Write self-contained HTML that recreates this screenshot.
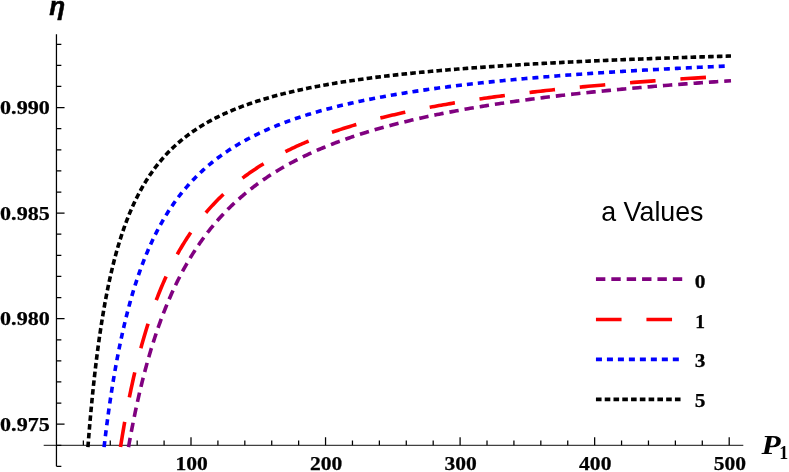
<!DOCTYPE html>
<html><head><meta charset="utf-8"><title>plot</title>
<style>html,body{margin:0;padding:0;background:#fff}svg{display:block;will-change:transform;opacity:0.999}text{font-family:"Liberation Serif",serif;font-weight:bold;fill:#000}</style></head><body>
<svg width="789" height="472" viewBox="0 0 789 472">
<rect width="789" height="472" fill="#fff"/>
<path d="M43.7,445.31 H743.3" fill="none" stroke="#111" stroke-width="1"/>
<path d="M56.45,34.3 V466.3 M83.36,445.31 v-4.9 M110.27,445.31 v-4.9 M137.18,445.31 v-4.9 M164.09,445.31 v-4.9 M191.00,445.31 v-8.1 M217.91,445.31 v-4.9 M244.82,445.31 v-4.9 M271.73,445.31 v-4.9 M298.64,445.31 v-4.9 M325.55,445.31 v-8.1 M352.46,445.31 v-4.9 M379.37,445.31 v-4.9 M406.28,445.31 v-4.9 M433.19,445.31 v-4.9 M460.10,445.31 v-8.1 M487.01,445.31 v-4.9 M513.92,445.31 v-4.9 M540.83,445.31 v-4.9 M567.74,445.31 v-4.9 M594.65,445.31 v-8.1 M621.56,445.31 v-4.9 M648.47,445.31 v-4.9 M675.38,445.31 v-4.9 M702.29,445.31 v-4.9 M729.20,445.31 v-8.1 M56.45,466.42 h4.9 M56.45,445.31 h4.9 M56.45,424.21 h8.1 M56.45,403.10 h4.9 M56.45,381.99 h4.9 M56.45,360.88 h4.9 M56.45,339.78 h4.9 M56.45,318.67 h8.1 M56.45,297.56 h4.9 M56.45,276.46 h4.9 M56.45,255.35 h4.9 M56.45,234.24 h4.9 M56.45,213.14 h8.1 M56.45,192.03 h4.9 M56.45,170.92 h4.9 M56.45,149.81 h4.9 M56.45,128.71 h4.9 M56.45,107.60 h8.1 M56.45,86.49 h4.9 M56.45,65.39 h4.9 M56.45,44.28 h4.9" fill="none" stroke="#000" stroke-width="1.25"/>
<path d="M128.84,445.31 L129.25,443.04 L129.66,440.77 L130.07,438.52 L130.48,436.29 L130.89,434.06 L131.31,431.85 L131.73,429.65 L132.15,427.46 L132.58,425.28 L133.00,423.12 L133.43,420.97 L133.86,418.83 L134.30,416.70 L134.73,414.58 L135.17,412.48 L135.61,410.39 L136.06,408.30 L136.50,406.24 L136.95,404.18 L137.40,402.13 L137.85,400.10 L138.31,398.07 L138.77,396.06 L139.23,394.06 L139.69,392.07 L140.16,390.09 L140.63,388.12 L141.10,386.17 L141.58,384.22 L142.05,382.28 L142.53,380.36 L143.01,378.45 L143.50,376.54 L143.99,374.65 L144.48,372.77 L144.97,370.90 L145.47,369.04 L145.97,367.19 L146.47,365.35 L146.97,363.52 L147.48,361.70 L147.99,359.89 L148.50,358.09 L149.02,356.30 L149.54,354.52 L150.06,352.75 L150.58,350.99 L151.11,349.24 L151.64,347.50 L152.17,345.77 L152.71,344.05 L153.25,342.34 L153.79,340.63 L154.34,338.94 L154.89,337.26 L155.44,335.58 L155.99,333.92 L156.55,332.27 L157.11,330.62 L157.67,328.98 L158.24,327.36 L158.81,325.74 L159.38,324.13 L159.96,322.53 L160.54,320.94 L161.12,319.35 L161.71,317.78 L162.30,316.22 L162.89,314.66 L163.49,313.11 L164.09,311.57 L164.69,310.04 L165.30,308.52 L165.91,307.01 L166.52,305.50 L167.14,304.01 L167.76,302.52 L168.38,301.04 L169.01,299.57 L169.64,298.10 L170.28,296.65 L170.91,295.20 L171.55,293.76 L172.20,292.33 L172.85,290.91 L173.50,289.49 L174.16,288.08 L174.82,286.68 L175.48,285.29 L176.15,283.91 L176.82,282.53 L177.49,281.16 L178.17,279.80 L178.85,278.45 L179.54,277.10 L180.23,275.76 L180.92,274.43 L181.62,273.11 L182.32,271.79 L183.02,270.49 L183.73,269.18 L184.45,267.89 L185.16,266.60 L185.88,265.32 L186.61,264.05 L187.34,262.78 L188.07,261.53 L188.81,260.27 L189.55,259.03 L190.30,257.79 L191.05,256.56 L191.80,255.34 L192.56,254.12 L193.32,252.91 L194.09,251.71 L194.86,250.51 L195.63,249.32 L196.41,248.14 L197.20,246.96 L197.99,245.79 L198.78,244.62 L199.58,243.47 L200.38,242.32 L201.19,241.17 L202.00,240.03 L202.81,238.90 L203.63,237.78 L204.46,236.66 L205.29,235.54 L206.12,234.44 L206.96,233.34 L207.80,232.24 L208.65,231.15 L209.50,230.07 L210.36,228.99 L211.22,227.92 L212.09,226.86 L212.96,225.80 L213.84,224.75 L214.72,223.70 L215.61,222.66 L216.50,221.63 L217.40,220.60 L218.30,219.57 L219.20,218.56 L220.12,217.54 L221.03,216.54 L221.96,215.54 L222.88,214.54 L223.81,213.55 L224.75,212.57 L225.70,211.59 L226.64,210.62 L227.60,209.65 L228.56,208.68 L229.52,207.73 L230.49,206.78 L231.47,205.83 L232.45,204.89 L233.43,203.95 L234.42,203.02 L235.42,202.10 L236.42,201.18 L237.43,200.26 L238.45,199.35 L239.47,198.44 L240.49,197.54 L241.52,196.65 L242.56,195.76 L243.60,194.87 L244.65,193.99 L245.70,193.12 L246.77,192.25 L247.83,191.38 L248.90,190.52 L249.98,189.67 L251.07,188.81 L252.16,187.97 L253.25,187.13 L254.36,186.29 L255.46,185.46 L256.58,184.63 L257.70,183.81 L258.83,182.99 L259.96,182.17 L261.10,181.36 L262.25,180.56 L263.40,179.76 L264.56,178.96 L265.73,178.17 L266.90,177.38 L268.08,176.60 L269.27,175.82 L270.46,175.05 L271.66,174.28 L272.86,173.51 L274.07,172.75 L275.29,172.00 L276.52,171.24 L277.75,170.49 L278.99,169.75 L280.24,169.01 L281.49,168.27 L282.75,167.54 L284.02,166.81 L285.30,166.09 L286.58,165.37 L287.87,164.65 L289.17,163.94 L290.47,163.23 L291.78,162.53 L293.10,161.83 L294.43,161.13 L295.76,160.44 L297.10,159.75 L298.45,159.07 L299.80,158.39 L301.17,157.71 L302.54,157.04 L303.92,156.37 L305.30,155.70 L306.70,155.04 L308.10,154.38 L309.51,153.73 L310.93,153.08 L312.35,152.43 L313.79,151.79 L315.23,151.15 L316.68,150.51 L318.14,149.88 L319.60,149.25 L321.08,148.62 L322.56,148.00 L324.05,147.38 L325.55,146.76 L327.06,146.15 L328.57,145.54 L330.10,144.94 L331.63,144.34 L333.17,143.74 L334.72,143.14 L336.28,142.55 L337.85,141.96 L339.43,141.38 L341.01,140.79 L342.61,140.21 L344.21,139.64 L345.82,139.07 L347.44,138.50 L349.07,137.93 L350.71,137.37 L352.36,136.81 L354.02,136.25 L355.69,135.70 L357.36,135.15 L359.05,134.60 L360.75,134.06 L362.45,133.51 L364.17,132.98 L365.89,132.44 L367.62,131.91 L369.37,131.38 L371.12,130.85 L372.88,130.33 L374.66,129.81 L376.44,129.29 L378.23,128.78 L380.03,128.26 L381.85,127.75 L383.67,127.25 L385.50,126.75 L387.35,126.24 L389.20,125.75 L391.07,125.25 L392.94,124.76 L394.83,124.27 L396.72,123.78 L398.63,123.30 L400.54,122.82 L402.47,122.34 L404.41,121.86 L406.36,121.39 L408.32,120.92 L410.29,120.45 L412.28,119.98 L414.27,119.52 L416.27,119.06 L418.29,118.60 L420.32,118.15 L422.36,117.70 L424.41,117.25 L426.47,116.80 L428.54,116.35 L430.63,115.91 L432.72,115.47 L434.83,115.03 L436.95,114.60 L439.08,114.16 L441.23,113.73 L443.38,113.30 L445.55,112.88 L447.73,112.46 L449.92,112.03 L452.13,111.62 L454.34,111.20 L456.57,110.79 L458.81,110.37 L461.07,109.96 L463.34,109.56 L465.62,109.15 L467.91,108.75 L470.21,108.35 L472.53,107.95 L474.86,107.56 L477.21,107.16 L479.56,106.77 L481.93,106.38 L484.32,105.99 L486.72,105.61 L489.13,105.23 L491.55,104.85 L493.99,104.47 L496.44,104.09 L498.90,103.72 L501.38,103.34 L503.88,102.97 L506.38,102.60 L508.90,102.24 L511.44,101.87 L513.99,101.51 L516.55,101.15 L519.13,100.79 L521.72,100.44 L524.33,100.08 L526.95,99.73 L529.59,99.38 L532.24,99.03 L534.90,98.69 L537.58,98.34 L540.28,98.00 L542.99,97.66 L545.72,97.32 L548.46,96.99 L551.21,96.65 L553.99,96.32 L556.77,95.99 L559.58,95.66 L562.40,95.33 L565.23,95.00 L568.08,94.68 L570.95,94.36 L573.83,94.04 L576.73,93.72 L579.64,93.40 L582.58,93.09 L585.52,92.78 L588.49,92.46 L591.47,92.15 L594.47,91.85 L597.48,91.54 L600.51,91.24 L603.56,90.93 L606.63,90.63 L609.71,90.33 L612.81,90.03 L615.92,89.74 L619.06,89.44 L622.21,89.15 L625.38,88.86 L628.57,88.57 L631.77,88.28 L635.00,88.00 L638.24,87.71 L641.50,87.43 L644.78,87.15 L648.07,86.87 L651.39,86.59 L654.72,86.31 L658.07,86.04 L661.44,85.76 L664.83,85.49 L668.24,85.22 L671.67,84.95 L675.12,84.68 L678.58,84.42 L682.07,84.15 L685.57,83.89 L689.10,83.63 L692.64,83.37 L696.21,83.11 L699.79,82.85 L703.40,82.59 L707.02,82.34 L710.67,82.09 L714.33,81.83 L718.02,81.58 L721.72,81.33 L725.45,81.09 L729.20,80.84" fill="none" stroke="#800080" stroke-width="3.6" stroke-linecap="square" stroke-linejoin="round" stroke-dasharray="5.800 9.573"/>
<path d="M120.79,445.31 L121.17,442.92 L121.55,440.53 L121.94,438.17 L122.32,435.81 L122.71,433.47 L123.10,431.15 L123.50,428.84 L123.89,426.54 L124.29,424.25 L124.69,421.98 L125.09,419.72 L125.50,417.47 L125.90,415.24 L126.31,413.02 L126.73,410.82 L127.14,408.62 L127.56,406.44 L127.98,404.28 L128.40,402.12 L128.82,399.98 L129.25,397.85 L129.68,395.73 L130.11,393.63 L130.55,391.54 L130.98,389.45 L131.42,387.39 L131.87,385.33 L132.31,383.29 L132.76,381.26 L133.21,379.24 L133.66,377.23 L134.12,375.23 L134.58,373.25 L135.04,371.27 L135.50,369.31 L135.97,367.36 L136.44,365.42 L136.91,363.50 L137.38,361.58 L137.86,359.68 L138.34,357.78 L138.82,355.90 L139.31,354.03 L139.80,352.17 L140.29,350.32 L140.78,348.48 L141.28,346.66 L141.78,344.84 L142.29,343.03 L142.79,341.24 L143.30,339.45 L143.81,337.68 L144.33,335.91 L144.85,334.16 L145.37,332.42 L145.89,330.68 L146.42,328.96 L146.95,327.25 L147.49,325.54 L148.02,323.85 L148.56,322.17 L149.11,320.49 L149.65,318.83 L150.20,317.18 L150.76,315.53 L151.31,313.90 L151.87,312.27 L152.44,310.66 L153.00,309.05 L153.57,307.46 L154.15,305.87 L154.72,304.29 L155.30,302.72 L155.89,301.16 L156.47,299.61 L157.06,298.07 L157.66,296.54 L158.25,295.02 L158.85,293.50 L159.46,292.00 L160.07,290.50 L160.68,289.01 L161.29,287.54 L161.91,286.07 L162.53,284.60 L163.16,283.15 L163.79,281.71 L164.42,280.27 L165.06,278.84 L165.70,277.42 L166.34,276.01 L166.99,274.61 L167.64,273.22 L168.30,271.83 L168.96,270.45 L169.62,269.08 L170.29,267.72 L170.96,266.37 L171.64,265.02 L172.32,263.68 L173.00,262.35 L173.69,261.03 L174.38,259.72 L175.08,258.41 L175.78,257.11 L176.48,255.82 L177.19,254.53 L177.90,253.26 L178.62,251.99 L179.34,250.73 L180.06,249.47 L180.79,248.23 L181.53,246.99 L182.27,245.75 L183.01,244.53 L183.75,243.31 L184.51,242.10 L185.26,240.90 L186.02,239.70 L186.79,238.51 L187.55,237.33 L188.33,236.15 L189.11,234.98 L189.89,233.82 L190.68,232.67 L191.47,231.52 L192.26,230.38 L193.07,229.24 L193.87,228.11 L194.68,226.99 L195.50,225.88 L196.32,224.77 L197.14,223.67 L197.97,222.57 L198.81,221.48 L199.65,220.40 L200.49,219.32 L201.34,218.25 L202.20,217.19 L203.06,216.13 L203.92,215.08 L204.79,214.03 L205.67,213.00 L206.55,211.96 L207.43,210.94 L208.33,209.92 L209.22,208.90 L210.12,207.89 L211.03,206.89 L211.94,205.89 L212.86,204.90 L213.78,203.91 L214.71,202.94 L215.64,201.96 L216.58,200.99 L217.53,200.03 L218.48,199.07 L219.43,198.12 L220.40,197.18 L221.36,196.24 L222.34,195.30 L223.31,194.37 L224.30,193.45 L225.29,192.53 L226.29,191.62 L227.29,190.71 L228.30,189.81 L229.31,188.91 L230.33,188.02 L231.36,187.13 L232.39,186.25 L233.43,185.38 L234.47,184.50 L235.52,183.64 L236.58,182.78 L237.64,181.92 L238.71,181.07 L239.78,180.23 L240.86,179.39 L241.95,178.55 L243.05,177.72 L244.15,176.89 L245.26,176.07 L246.37,175.26 L247.49,174.44 L248.62,173.64 L249.75,172.84 L250.89,172.04 L252.04,171.24 L253.19,170.46 L254.35,169.67 L255.52,168.89 L256.70,168.12 L257.88,167.35 L259.07,166.59 L260.26,165.82 L261.46,165.07 L262.67,164.32 L263.89,163.57 L265.11,162.83 L266.34,162.09 L267.58,161.35 L268.83,160.62 L270.08,159.90 L271.34,159.18 L272.61,158.46 L273.89,157.75 L275.17,157.04 L276.46,156.33 L277.76,155.63 L279.06,154.94 L280.38,154.24 L281.70,153.55 L283.03,152.87 L284.36,152.19 L285.71,151.51 L287.06,150.84 L288.42,150.17 L289.79,149.51 L291.17,148.85 L292.55,148.19 L293.94,147.54 L295.35,146.89 L296.75,146.24 L298.17,145.60 L299.60,144.97 L301.03,144.33 L302.48,143.70 L303.93,143.07 L305.39,142.45 L306.86,141.83 L308.33,141.22 L309.82,140.61 L311.32,140.00 L312.82,139.39 L314.33,138.79 L315.85,138.19 L317.38,137.60 L318.92,137.01 L320.47,136.42 L322.03,135.84 L323.60,135.26 L325.17,134.68 L326.76,134.11 L328.35,133.54 L329.96,132.97 L331.57,132.41 L333.19,131.85 L334.83,131.29 L336.47,130.74 L338.12,130.18 L339.78,129.64 L341.45,129.09 L343.14,128.55 L344.83,128.02 L346.53,127.48 L348.24,126.95 L349.96,126.42 L351.69,125.90 L353.44,125.37 L355.19,124.86 L356.95,124.34 L358.72,123.83 L360.51,123.32 L362.30,122.81 L364.11,122.31 L365.92,121.80 L367.75,121.31 L369.58,120.81 L371.43,120.32 L373.29,119.83 L375.16,119.34 L377.04,118.86 L378.93,118.38 L380.83,117.90 L382.75,117.43 L384.67,116.95 L386.61,116.48 L388.56,116.02 L390.52,115.55 L392.49,115.09 L394.47,114.63 L396.46,114.18 L398.47,113.72 L400.49,113.27 L402.52,112.82 L404.56,112.38 L406.61,111.94 L408.68,111.50 L410.76,111.06 L412.85,110.62 L414.95,110.19 L417.07,109.76 L419.19,109.33 L421.33,108.91 L423.49,108.49 L425.65,108.07 L427.83,107.65 L430.02,107.23 L432.22,106.82 L434.44,106.41 L436.67,106.00 L438.92,105.60 L441.17,105.20 L443.44,104.79 L445.73,104.40 L448.02,104.00 L450.33,103.61 L452.66,103.22 L454.99,102.83 L457.34,102.44 L459.71,102.06 L462.09,101.67 L464.48,101.29 L466.89,100.92 L469.31,100.54 L471.75,100.17 L474.20,99.80 L476.66,99.43 L479.14,99.06 L481.64,98.70 L484.14,98.33 L486.67,97.97 L489.21,97.61 L491.76,97.26 L494.33,96.90 L496.91,96.55 L499.51,96.20 L502.12,95.85 L504.75,95.51 L507.40,95.16 L510.06,94.82 L512.74,94.48 L515.43,94.14 L518.14,93.81 L520.86,93.48 L523.60,93.14 L526.36,92.81 L529.13,92.49 L531.92,92.16 L534.72,91.84 L537.54,91.51 L540.38,91.19 L543.24,90.87 L546.11,90.56 L549.00,90.24 L551.90,89.93 L554.83,89.62 L557.77,89.31 L560.73,89.00 L563.70,88.70 L566.69,88.39 L569.70,88.09 L572.73,87.79 L575.78,87.49 L578.84,87.19 L581.92,86.90 L585.02,86.61 L588.14,86.31 L591.28,86.02 L594.44,85.74 L597.61,85.45 L600.80,85.17 L604.01,84.88 L607.25,84.60 L610.50,84.32 L613.76,84.04 L617.05,83.77 L620.36,83.49 L623.69,83.22 L627.03,82.95 L630.40,82.68 L633.79,82.41 L637.19,82.14 L640.62,81.88 L644.07,81.61 L647.53,81.35 L651.02,81.09 L654.53,80.83 L658.06,80.57 L661.61,80.32 L665.18,80.06 L668.77,79.81 L672.38,79.56 L676.01,79.31 L679.67,79.06 L683.35,78.81 L687.05,78.56 L690.77,78.32 L694.51,78.08 L698.27,77.83 L702.06,77.59 L705.87,77.36 L709.70,77.12 L713.55,76.88 L717.43,76.65 L721.33,76.41 L725.25,76.18 L729.20,75.95" fill="none" stroke="#ff0000" stroke-width="3.6" stroke-linecap="square" stroke-linejoin="round" stroke-dasharray="22.000 28.490"/>
<path d="M104.29,445.31 L104.61,442.62 L104.93,439.94 L105.25,437.27 L105.57,434.63 L105.90,432.00 L106.23,429.39 L106.56,426.80 L106.89,424.23 L107.23,421.67 L107.57,419.13 L107.91,416.61 L108.25,414.10 L108.59,411.61 L108.94,409.13 L109.29,406.67 L109.64,404.23 L109.99,401.81 L110.35,399.40 L110.71,397.00 L111.07,394.63 L111.43,392.26 L111.80,389.92 L112.16,387.59 L112.54,385.27 L112.91,382.97 L113.28,380.68 L113.66,378.41 L114.04,376.16 L114.42,373.92 L114.81,371.69 L115.20,369.48 L115.59,367.29 L115.98,365.10 L116.38,362.94 L116.78,360.78 L117.18,358.64 L117.58,356.52 L117.99,354.41 L118.40,352.31 L118.81,350.23 L119.22,348.16 L119.64,346.11 L120.06,344.06 L120.48,342.04 L120.91,340.02 L121.34,338.02 L121.77,336.03 L122.20,334.05 L122.64,332.09 L123.08,330.14 L123.52,328.21 L123.97,326.28 L124.42,324.37 L124.87,322.47 L125.32,320.59 L125.78,318.71 L126.24,316.85 L126.71,315.00 L127.17,313.17 L127.64,311.34 L128.12,309.53 L128.59,307.73 L129.07,305.94 L129.55,304.17 L130.04,302.40 L130.53,300.65 L131.02,298.91 L131.52,297.18 L132.02,295.46 L132.52,293.75 L133.02,292.05 L133.53,290.37 L134.05,288.69 L134.56,287.03 L135.08,285.38 L135.60,283.74 L136.13,282.11 L136.66,280.49 L137.19,278.88 L137.73,277.28 L138.27,275.70 L138.81,274.12 L139.36,272.55 L139.91,271.00 L140.47,269.45 L141.03,267.91 L141.59,266.39 L142.15,264.87 L142.72,263.37 L143.30,261.87 L143.87,260.39 L144.45,258.91 L145.04,257.45 L145.63,255.99 L146.22,254.54 L146.82,253.10 L147.42,251.68 L148.02,250.26 L148.63,248.85 L149.25,247.45 L149.86,246.06 L150.48,244.68 L151.11,243.31 L151.74,241.94 L152.37,240.59 L153.01,239.24 L153.65,237.91 L154.30,236.58 L154.95,235.26 L155.60,233.95 L156.26,232.65 L156.92,231.36 L157.59,230.07 L158.26,228.80 L158.94,227.53 L159.62,226.27 L160.31,225.02 L161.00,223.78 L161.69,222.54 L162.39,221.32 L163.10,220.10 L163.81,218.89 L164.52,217.69 L165.24,216.50 L165.96,215.31 L166.69,214.13 L167.42,212.96 L168.16,211.80 L168.90,210.64 L169.65,209.50 L170.40,208.36 L171.16,207.22 L171.92,206.10 L172.69,204.98 L173.46,203.87 L174.24,202.77 L175.02,201.67 L175.81,200.59 L176.61,199.50 L177.40,198.43 L178.21,197.36 L179.02,196.30 L179.83,195.25 L180.65,194.21 L181.48,193.17 L182.31,192.14 L183.15,191.11 L183.99,190.09 L184.84,189.08 L185.69,188.08 L186.55,187.08 L187.41,186.09 L188.28,185.10 L189.16,184.12 L190.04,183.15 L190.93,182.18 L191.82,181.22 L192.72,180.27 L193.63,179.32 L194.54,178.38 L195.46,177.45 L196.38,176.52 L197.31,175.60 L198.25,174.68 L199.19,173.77 L200.14,172.87 L201.10,171.97 L202.06,171.08 L203.03,170.19 L204.00,169.31 L204.98,168.44 L205.97,167.57 L206.96,166.71 L207.96,165.85 L208.97,165.00 L209.98,164.15 L211.00,163.31 L212.03,162.48 L213.07,161.65 L214.11,160.82 L215.16,160.01 L216.21,159.19 L217.27,158.38 L218.34,157.58 L219.42,156.79 L220.50,155.99 L221.59,155.21 L222.69,154.43 L223.79,153.65 L224.91,152.88 L226.03,152.11 L227.15,151.35 L228.29,150.60 L229.43,149.85 L230.58,149.10 L231.74,148.36 L232.90,147.62 L234.08,146.89 L235.26,146.17 L236.45,145.44 L237.64,144.73 L238.85,144.01 L240.06,143.31 L241.28,142.60 L242.51,141.91 L243.74,141.21 L244.99,140.52 L246.24,139.84 L247.50,139.16 L248.77,138.48 L250.05,137.81 L251.34,137.15 L252.64,136.49 L253.94,135.83 L255.25,135.17 L256.57,134.53 L257.90,133.88 L259.24,133.24 L260.59,132.60 L261.95,131.97 L263.31,131.34 L264.69,130.72 L266.07,130.10 L267.47,129.49 L268.87,128.87 L270.28,128.27 L271.70,127.66 L273.13,127.06 L274.57,126.47 L276.02,125.88 L277.48,125.29 L278.95,124.71 L280.43,124.13 L281.92,123.55 L283.42,122.98 L284.93,122.41 L286.45,121.84 L287.98,121.28 L289.52,120.73 L291.06,120.17 L292.62,119.62 L294.19,119.08 L295.77,118.53 L297.37,117.99 L298.97,117.46 L300.58,116.93 L302.20,116.40 L303.84,115.87 L305.48,115.35 L307.14,114.83 L308.80,114.32 L310.48,113.81 L312.17,113.30 L313.87,112.79 L315.58,112.29 L317.30,111.80 L319.04,111.30 L320.78,110.81 L322.54,110.32 L324.31,109.84 L326.09,109.36 L327.88,108.88 L329.68,108.40 L331.50,107.93 L333.33,107.46 L335.17,106.99 L337.02,106.53 L338.89,106.07 L340.76,105.61 L342.65,105.16 L344.56,104.71 L346.47,104.26 L348.40,103.82 L350.34,103.38 L352.29,102.94 L354.26,102.50 L356.24,102.07 L358.23,101.64 L360.24,101.21 L362.26,100.78 L364.29,100.36 L366.34,99.94 L368.40,99.53 L370.47,99.11 L372.56,98.70 L374.66,98.29 L376.77,97.89 L378.90,97.49 L381.05,97.09 L383.21,96.69 L385.38,96.29 L387.56,95.90 L389.76,95.51 L391.98,95.12 L394.21,94.74 L396.46,94.36 L398.72,93.98 L400.99,93.60 L403.28,93.23 L405.59,92.85 L407.91,92.49 L410.24,92.12 L412.60,91.75 L414.96,91.39 L417.35,91.03 L419.75,90.67 L422.16,90.32 L424.59,89.97 L427.04,89.62 L429.50,89.27 L431.98,88.92 L434.48,88.58 L436.99,88.24 L439.52,87.90 L442.07,87.56 L444.63,87.23 L447.21,86.89 L449.81,86.56 L452.42,86.24 L455.06,85.91 L457.70,85.59 L460.37,85.26 L463.06,84.94 L465.76,84.63 L468.48,84.31 L471.22,84.00 L473.98,83.69 L476.75,83.38 L479.55,83.07 L482.36,82.77 L485.19,82.46 L488.04,82.16 L490.91,81.86 L493.80,81.57 L496.70,81.27 L499.63,80.98 L502.58,80.69 L505.54,80.40 L508.53,80.11 L511.53,79.83 L514.56,79.54 L517.60,79.26 L520.67,78.98 L523.75,78.70 L526.86,78.43 L529.99,78.15 L533.14,77.88 L536.30,77.61 L539.49,77.34 L542.70,77.07 L545.94,76.81 L549.19,76.54 L552.47,76.28 L555.76,76.02 L559.08,75.76 L562.42,75.51 L565.79,75.25 L569.17,75.00 L572.58,74.75 L576.01,74.50 L579.47,74.25 L582.94,74.00 L586.44,73.76 L589.96,73.51 L593.51,73.27 L597.08,73.03 L600.68,72.79 L604.29,72.56 L607.93,72.32 L611.60,72.09 L615.29,71.85 L619.01,71.62 L622.74,71.39 L626.51,71.17 L630.30,70.94 L634.11,70.72 L637.95,70.49 L641.82,70.27 L645.71,70.05 L649.63,69.83 L653.57,69.61 L657.54,69.40 L661.53,69.18 L665.56,68.97 L669.61,68.76 L673.68,68.55 L677.78,68.34 L681.91,68.13 L686.07,67.92 L690.26,67.72 L694.47,67.52 L698.71,67.31 L702.98,67.11 L707.28,66.91 L711.61,66.71 L715.96,66.52 L720.34,66.32 L724.76,66.13 L729.20,65.93" fill="none" stroke="#0000ff" stroke-width="3.6" stroke-linecap="square" stroke-linejoin="round" stroke-dasharray="2.400 8.580"/>
<path d="M88.06,445.31 L88.30,442.19 L88.55,439.10 L88.80,436.03 L89.04,432.98 L89.30,429.96 L89.55,426.96 L89.80,423.98 L90.06,421.02 L90.32,418.09 L90.58,415.18 L90.84,412.29 L91.11,409.43 L91.37,406.58 L91.64,403.76 L91.91,400.96 L92.18,398.18 L92.46,395.42 L92.74,392.68 L93.02,389.97 L93.30,387.27 L93.58,384.60 L93.87,381.94 L94.15,379.31 L94.44,376.69 L94.74,374.10 L95.03,371.53 L95.33,368.97 L95.63,366.44 L95.93,363.92 L96.23,361.42 L96.54,358.94 L96.85,356.49 L97.16,354.05 L97.47,351.62 L97.79,349.22 L98.10,346.84 L98.42,344.47 L98.75,342.12 L99.07,339.79 L99.40,337.48 L99.73,335.19 L100.06,332.91 L100.40,330.65 L100.74,328.41 L101.08,326.18 L101.42,323.97 L101.77,321.78 L102.12,319.60 L102.47,317.45 L102.82,315.30 L103.18,313.18 L103.54,311.07 L103.90,308.98 L104.27,306.90 L104.63,304.84 L105.00,302.79 L105.38,300.76 L105.75,298.75 L106.13,296.75 L106.52,294.76 L106.90,292.80 L107.29,290.84 L107.68,288.90 L108.07,286.98 L108.47,285.07 L108.87,283.17 L109.27,281.29 L109.68,279.43 L110.09,277.58 L110.50,275.74 L110.92,273.92 L111.34,272.11 L111.76,270.31 L112.19,268.53 L112.61,266.76 L113.05,265.01 L113.48,263.26 L113.92,261.54 L114.36,259.82 L114.81,258.12 L115.26,256.43 L115.71,254.75 L116.17,253.09 L116.62,251.44 L117.09,249.80 L117.55,248.18 L118.02,246.56 L118.50,244.96 L118.98,243.37 L119.46,241.80 L119.94,240.23 L120.43,238.68 L120.92,237.14 L121.42,235.61 L121.92,234.09 L122.42,232.59 L122.93,231.09 L123.44,229.61 L123.96,228.14 L124.48,226.68 L125.00,225.23 L125.53,223.79 L126.06,222.37 L126.59,220.95 L127.13,219.55 L127.68,218.15 L128.22,216.77 L128.78,215.39 L129.33,214.03 L129.89,212.68 L130.46,211.34 L131.03,210.00 L131.60,208.68 L132.18,207.37 L132.76,206.07 L133.35,204.78 L133.94,203.50 L134.54,202.22 L135.14,200.96 L135.74,199.71 L136.35,198.47 L136.97,197.23 L137.59,196.01 L138.21,194.79 L138.84,193.59 L139.47,192.39 L140.11,191.21 L140.76,190.03 L141.41,188.86 L142.06,187.70 L142.72,186.55 L143.38,185.40 L144.05,184.27 L144.72,183.14 L145.40,182.03 L146.09,180.92 L146.78,179.82 L147.47,178.73 L148.17,177.65 L148.88,176.57 L149.59,175.51 L150.31,174.45 L151.03,173.40 L151.76,172.35 L152.49,171.32 L153.23,170.29 L153.97,169.28 L154.72,168.27 L155.48,167.26 L156.24,166.27 L157.01,165.28 L157.78,164.30 L158.56,163.33 L159.35,162.36 L160.14,161.40 L160.94,160.45 L161.74,159.51 L162.55,158.57 L163.37,157.64 L164.19,156.72 L165.02,155.81 L165.85,154.90 L166.69,154.00 L167.54,153.10 L168.40,152.22 L169.26,151.34 L170.13,150.46 L171.00,149.60 L171.88,148.74 L172.77,147.88 L173.67,147.03 L174.57,146.19 L175.48,145.36 L176.39,144.53 L177.31,143.71 L178.24,142.89 L179.18,142.08 L180.13,141.28 L181.08,140.48 L182.04,139.69 L183.00,138.91 L183.98,138.13 L184.96,137.36 L185.95,136.59 L186.94,135.83 L187.95,135.07 L188.96,134.32 L189.98,133.58 L191.00,132.84 L192.04,132.11 L193.08,131.38 L194.13,130.66 L195.19,129.94 L196.26,129.23 L197.34,128.53 L198.42,127.83 L199.51,127.14 L200.61,126.45 L201.72,125.76 L202.84,125.08 L203.96,124.41 L205.10,123.74 L206.24,123.08 L207.40,122.42 L208.56,121.77 L209.73,121.12 L210.91,120.48 L212.09,119.84 L213.29,119.21 L214.50,118.58 L215.71,117.95 L216.94,117.34 L218.17,116.72 L219.42,116.11 L220.67,115.51 L221.94,114.91 L223.21,114.31 L224.49,113.72 L225.78,113.13 L227.09,112.55 L228.40,111.97 L229.72,111.40 L231.06,110.83 L232.40,110.27 L233.75,109.71 L235.12,109.15 L236.49,108.60 L237.88,108.05 L239.27,107.51 L240.68,106.97 L242.10,106.43 L243.52,105.90 L244.96,105.38 L246.41,104.85 L247.88,104.33 L249.35,103.82 L250.83,103.31 L252.33,102.80 L253.83,102.30 L255.35,101.80 L256.88,101.30 L258.43,100.81 L259.98,100.32 L261.55,99.84 L263.12,99.36 L264.71,98.88 L266.32,98.41 L267.93,97.94 L269.56,97.47 L271.20,97.01 L272.85,96.55 L274.51,96.10 L276.19,95.64 L277.88,95.20 L279.59,94.75 L281.30,94.31 L283.03,93.87 L284.77,93.44 L286.53,93.00 L288.30,92.58 L290.09,92.15 L291.88,91.73 L293.69,91.31 L295.52,90.89 L297.36,90.48 L299.21,90.07 L301.08,89.67 L302.96,89.26 L304.86,88.86 L306.77,88.47 L308.69,88.07 L310.64,87.68 L312.59,87.30 L314.56,86.91 L316.55,86.53 L318.55,86.15 L320.56,85.77 L322.60,85.40 L324.64,85.03 L326.71,84.66 L328.79,84.30 L330.88,83.94 L332.99,83.58 L335.12,83.22 L337.26,82.87 L339.42,82.52 L341.60,82.17 L343.80,81.82 L346.01,81.48 L348.23,81.14 L350.48,80.80 L352.74,80.47 L355.02,80.13 L357.32,79.80 L359.63,79.47 L361.96,79.15 L364.31,78.83 L366.68,78.51 L369.07,78.19 L371.47,77.87 L373.90,77.56 L376.34,77.25 L378.80,76.94 L381.28,76.64 L383.78,76.33 L386.30,76.03 L388.84,75.73 L391.39,75.44 L393.97,75.14 L396.57,74.85 L399.18,74.56 L401.82,74.27 L404.48,73.99 L407.15,73.70 L409.85,73.42 L412.57,73.14 L415.31,72.87 L418.07,72.59 L420.85,72.32 L423.66,72.05 L426.48,71.78 L429.33,71.52 L432.20,71.25 L435.09,70.99 L438.00,70.73 L440.94,70.47 L443.90,70.21 L446.88,69.96 L449.88,69.71 L452.91,69.46 L455.96,69.21 L459.03,68.96 L462.13,68.72 L465.25,68.47 L468.39,68.23 L471.56,67.99 L474.76,67.76 L477.97,67.52 L481.22,67.29 L484.49,67.05 L487.78,66.82 L491.10,66.59 L494.44,66.37 L497.81,66.14 L501.21,65.92 L504.63,65.70 L508.08,65.48 L511.55,65.26 L515.05,65.04 L518.58,64.83 L522.13,64.62 L525.72,64.40 L529.33,64.19 L532.97,63.98 L536.63,63.78 L540.33,63.57 L544.05,63.37 L547.80,63.17 L551.58,62.97 L555.39,62.77 L559.23,62.57 L563.10,62.37 L566.99,62.18 L570.92,61.99 L574.88,61.79 L578.87,61.60 L582.89,61.42 L586.94,61.23 L591.02,61.04 L595.13,60.86 L599.27,60.68 L603.45,60.49 L607.66,60.31 L611.90,60.13 L616.17,59.96 L620.48,59.78 L624.82,59.61 L629.19,59.43 L633.60,59.26 L638.04,59.09 L642.51,58.92 L647.02,58.75 L651.56,58.59 L656.14,58.42 L660.76,58.26 L665.40,58.09 L670.09,57.93 L674.81,57.77 L679.57,57.61 L684.36,57.45 L689.19,57.30 L694.06,57.14 L698.97,56.99 L703.91,56.83 L708.89,56.68 L713.91,56.53 L718.97,56.38 L724.06,56.23 L729.20,56.08" fill="none" stroke="#000000" stroke-width="3.6" stroke-linecap="square" stroke-linejoin="round" stroke-dasharray="2.000 6.776"/>
<path d="M597.75,279.1 H682" fill="none" stroke="#800080" stroke-width="3.6" stroke-linecap="square" stroke-dasharray="5.800 9.573"/>
<path d="M597.75,319.5 H682" fill="none" stroke="#ff0000" stroke-width="3.6" stroke-linecap="square" stroke-dasharray="22.000 28.490"/>
<path d="M597.75,359.4 H682" fill="none" stroke="#0000ff" stroke-width="3.6" stroke-linecap="square" stroke-dasharray="2.400 8.580"/>
<path d="M597.75,399.4 H682" fill="none" stroke="#000000" stroke-width="3.6" stroke-linecap="square" stroke-dasharray="2.000 6.776"/>
<text x="700" y="287.7" font-size="19.5" text-anchor="middle" textLength="10.70" lengthAdjust="spacingAndGlyphs" stroke="#000" stroke-width="0.25">0</text>
<text x="700" y="327.7" font-size="19.5" text-anchor="middle" textLength="9.75" lengthAdjust="spacingAndGlyphs" stroke="#000" stroke-width="0.25">1</text>
<text x="700" y="367.3" font-size="19.5" text-anchor="middle" textLength="10.70" lengthAdjust="spacingAndGlyphs" stroke="#000" stroke-width="0.25">3</text>
<text x="700" y="407.4" font-size="19.5" text-anchor="middle" textLength="10.70" lengthAdjust="spacingAndGlyphs" stroke="#000" stroke-width="0.25">5</text>
<text x="601.3" y="220.5" font-size="27.1" textLength="102.2" lengthAdjust="spacingAndGlyphs" style="font-family:'Liberation Sans',sans-serif;font-weight:normal">a Values</text>
<text x="191.60" y="469.6" font-size="19.5" text-anchor="middle" textLength="32.3" lengthAdjust="spacingAndGlyphs" stroke="#000" stroke-width="0.25">100</text>
<text x="326.15" y="469.6" font-size="19.5" text-anchor="middle" textLength="32.3" lengthAdjust="spacingAndGlyphs" stroke="#000" stroke-width="0.25">200</text>
<text x="460.70" y="469.6" font-size="19.5" text-anchor="middle" textLength="32.3" lengthAdjust="spacingAndGlyphs" stroke="#000" stroke-width="0.25">300</text>
<text x="595.25" y="469.6" font-size="19.5" text-anchor="middle" textLength="32.3" lengthAdjust="spacingAndGlyphs" stroke="#000" stroke-width="0.25">400</text>
<text x="729.80" y="469.6" font-size="19.5" text-anchor="middle" textLength="32.3" lengthAdjust="spacingAndGlyphs" stroke="#000" stroke-width="0.25">500</text>
<text x="0.1" y="430.81" font-size="19.5" textLength="49.6" lengthAdjust="spacingAndGlyphs" stroke="#000" stroke-width="0.25">0.975</text>
<text x="0.1" y="325.27" font-size="19.5" textLength="49.6" lengthAdjust="spacingAndGlyphs" stroke="#000" stroke-width="0.25">0.980</text>
<text x="0.1" y="219.74" font-size="19.5" textLength="49.6" lengthAdjust="spacingAndGlyphs" stroke="#000" stroke-width="0.25">0.985</text>
<text x="0.1" y="114.20" font-size="19.5" textLength="49.6" lengthAdjust="spacingAndGlyphs" stroke="#000" stroke-width="0.25">0.990</text>
<text x="49.3" y="15.1" font-size="26" stroke="#000" stroke-width="0.5" style="font-family:'Liberation Sans',sans-serif;font-style:italic">η</text>
<text transform="translate(761.6,453.8) scale(1.15,1)" font-size="27.3" font-style="italic">P</text>
<text x="779.2" y="458.9" font-size="18">1</text>
</svg></body></html>
